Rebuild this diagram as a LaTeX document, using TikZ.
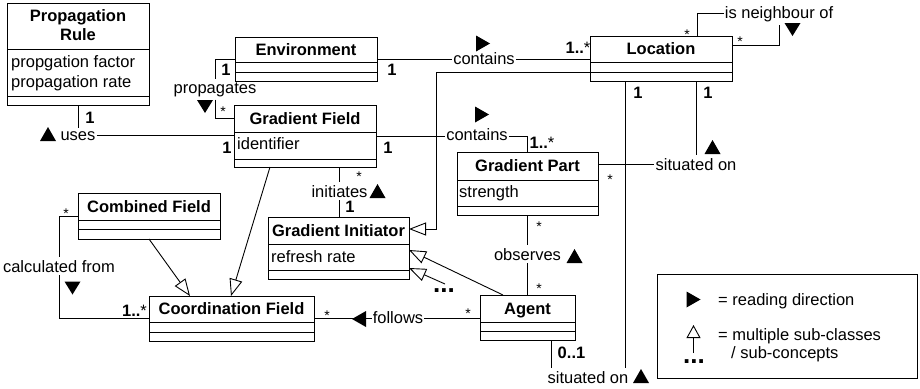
\documentclass[tikz,border=0pt]{standalone}
\usepackage{fontspec}
\setmainfont{Liberation Sans}
\usetikzlibrary{arrows.meta,calc}

\tikzset{
  classbox/.style={draw, line width=1pt, inner sep=0pt, outer sep=0pt, anchor=north west},
  clstitle/.style={font=\fontsize{16.5}{19}\selectfont\bfseries, inner sep=0pt, text height=11.6pt, text depth=0pt, anchor=center},
  clstitleb/.style={font=\fontsize{16.5}{19}\selectfont\bfseries, inner sep=0pt, anchor=base},
  attr/.style={font=\fontsize{16.5}{20}\selectfont, inner sep=0pt, anchor=base west},
  lab/.style={font=\fontsize{16.5}{20}\selectfont, inner xsep=1pt, inner ysep=3pt, anchor=base},
  mult/.style={font=\fontsize{16.5}{19}\selectfont\bfseries, inner sep=0pt, anchor=base},
  starmark/.style={font=\fontsize{14}{16}\selectfont, inner sep=0pt, anchor=base},
  dotsmark/.style={font=\fontsize{26}{26}\selectfont\bfseries, inner sep=0pt, anchor=center},
  conn/.style={line width=0.9pt},
  genarrow/.style={conn, -{Triangle[open, length=17pt, width=13pt, line width=0.9pt]}},
}

% class box: name, x1, y1, x2, y2, header bottom, attributes bottom
\newcommand\umlclass[7]{%
  \node[classbox, minimum width={#4-#2}, minimum height={#5-#3}] (#1) at (#2,#3) {};
  \draw[line width=1pt] (#2,#6) -- (#4,#6) (#2,#7) -- (#4,#7);
}
% reading-direction triangles
\newcommand\rdUp[2]{\fill (#1-8,#2+7) -- (#1+8,#2+7) -- (#1,#2-7) -- cycle;}
\newcommand\rdDown[2]{\fill (#1-8,#2-6) -- (#1+8,#2-6) -- (#1,#2+7) -- cycle;}
\newcommand\rdRight[2]{\fill (#1-7,#2-8) -- (#1-7,#2+8) -- (#1+7,#2) -- cycle;}
\newcommand\rdLeft[2]{\fill (#1+7,#2-8) -- (#1+7,#2+8) -- (#1-7,#2) -- cycle;}

\begin{document}
\begin{tikzpicture}[x=1pt,y=-1pt]
\useasboundingbox (0,0) rectangle (920,388);

% ---------- classes ----------
\umlclass{prop}{7}{3}{149}{105}{49}{96}
\node[clstitleb] (tProp1) at (78,21) {Propagation};
\node[clstitleb] (tProp2) at (78,40) {Rule};
\node[attr] (aProp1) at (11,67) {propgation factor};
\node[attr] (aProp2) at (11,87) {propagation rate};

\umlclass{env}{235}{37}{377}{81}{62}{72}
\node[clstitle] (tEnv) at (306,49.5) {Environment};

\umlclass{gf}{234}{105}{376}{167}{132}{159}
\node[clstitle] (tGf) at (305,118.5) {Gradient Field};
\node[attr] (aGf) at (237,149) {identifier};

\umlclass{loc}{590}{36}{732}{81}{62}{72}
\node[clstitle] (tLoc) at (661,49) {Location};

\umlclass{gp}{457}{152}{598}{215}{180}{206}
\node[clstitle] (tGp) at (527.5,166) {Gradient Part};
\node[attr] (aGp) at (459,197) {strength};

\umlclass{gi}{268}{217}{409}{279}{244}{270}
\node[clstitle] (tGi) at (338.5,230.5) {Gradient Initiator};
\node[attr] (aGi) at (271,262) {refresh rate};

\umlclass{comb}{78}{193}{220}{239}{220}{229}
\node[clstitle] (tComb) at (149,206.5) {Combined Field};

\umlclass{cf}{149}{296}{314}{341}{322}{332}
\node[clstitle] (tCf) at (231.5,309) {Coordination Field};

\umlclass{agent}{480}{295}{575}{340}{322}{331}
\node[clstitle] (tAgent) at (527.5,308.5) {Agent};

% ---------- connector labels ----------
\node[lab] (lUses) at (78,140) {uses};
\node[lab] (lProp) at (215,93) {propagates};
\node[lab] (lCont1) at (484,64) {contains};
\node[lab] (lCont2) at (477,140) {contains};
\node[lab] (lInit) at (339.5,197) {initiates};
\node[lab] (lObs) at (527.5,260) {observes};
\node[lab] (lSit1) at (696,170) {situated on};
\node[lab] (lSit2) at (588,383) {situated on};
\node[lab] (lCalc) at (59,272) {calculated from};
\node[lab] (lFol) at (398,323) {follows};
\node[lab] (lNeigh) at (779,18) {is neighbour of};
\node[dotsmark] (lDots) at (444,291) {...};

% ---------- connectors ----------
% uses
\draw[conn] (prop.south) -- (lUses.north);
\draw[conn] (lUses.east) -- (lUses.east -| gf.west);
% propagates
\draw[conn] (env.west) -| (lProp.north);
\coordinate (gfPin) at ($(gf.north west)+(0,13)$);
\draw[conn] (lProp.south) |- (gfPin);
% contains (environment - location)
\draw[conn] (env.east) -- (env.east -| lCont1.west);
\draw[conn] (lCont1.east |- env.east) -- (env.east -| loc.west);
% location is a gradient initiator
\coordinate (locL) at ($(loc.south west)+(0,-9)$);
\coordinate (bendLG) at (436,229);
\draw[genarrow] (locL) -| (bendLG) -- (bendLG -| gi.east);
% contains (gradient field - gradient part)
\draw[conn] (gf.east) -- (gf.east -| lCont2.west);
\draw[conn] (lCont2.east |- gf.east) -| (gp.north);
% initiates
\draw[conn] (lInit.north) -- (lInit.north |- gf.south);
\draw[conn] (lInit.south) -- (lInit.south |- gi.north);
% generalisations to coordination field
\draw[genarrow] ($(gf.south west)+(36,0)$) -- ($(cf.north west)+(82,0)$);
\draw[genarrow] (comb.south) -- ($(cf.north west)+(41,0)$);
% calculated from
\draw[conn] ($(comb.north west)+(0,23)$) -| (lCalc.north);
\draw[conn] (lCalc.south) |- (cf.west);
% follows
\draw[conn] (cf.east) -- (cf.east -| lFol.west);
\draw[conn] (lFol.east |- cf.east) -- (cf.east -| agent.west);
% agent is a gradient initiator
\draw[genarrow] ($(agent.north west)+(23,0)$) -- ($(gi.north east)+(0,33)$);
\coordinate (dotsTop) at (445,284);
\draw[genarrow] (dotsTop) -- ($(gi.north east)+(0,51)$);
% observes
\draw[conn] (gp.south) -- (lObs.north);
\draw[conn] (lObs.south) -- (agent.north);
% situated on (gradient part - location)
\coordinate (gpR) at ($(gp.north east)+(0,12)$);
\draw[conn] (gpR) -- (gpR -| lSit1.west);
\draw[conn] (lSit1.north) -- (lSit1.north |- loc.south);
% situated on (agent - location)
\coordinate (locB) at ($(loc.south west)+(35.5,0)$);
\draw[conn] (locB) -- (locB |- lSit2.north);
\coordinate (agB) at ($(agent.south west)+(71,0)$);
\draw[conn] (agB) -- (agB |- lSit2.north);
% is neighbour of
\coordinate (locT) at ($(loc.north west)+(107,0)$);
\draw[conn] (locT) |- (lNeigh.west);
\coordinate (locR) at ($(loc.north east)+(0,9)$);
\draw[conn] (locR) -| (lNeigh.south);

% ---------- multiplicities ----------
\node[mult] (m1) at (90,123) {1};
\node[mult] (m2) at (227,153) {1};
\node[mult] (m3) at (226,75) {1};
\node[mult] (m4) at (392,75) {1};
\node[mult] (m5) at (388,153) {1};
\node[mult] (m6) at (578,53) {1..{\mdseries*}};
\node[mult] (m7) at (542,148) {1..{\mdseries*}};
\node[mult] (m8) at (134.5,316) {1..{\mdseries*}};
\node[mult] (m9) at (350,212) {1};
\node[mult] (m10) at (638,98) {1};
\node[mult] (m11) at (708,98) {1};
\node[mult] (m12) at (571.5,358) {0..1};
\node[starmark] (s1) at (223,116) {*};
\node[starmark] (s2) at (687,39) {*};
\node[starmark] (s3) at (740,46) {*};
\node[starmark] (s4) at (359,181) {*};
\node[starmark] (s5) at (610,184) {*};
\node[starmark] (s6) at (539,231) {*};
\node[starmark] (s7) at (539,293) {*};
\node[starmark] (s8) at (468,318) {*};
\node[starmark] (s9) at (327,320) {*};
\node[starmark] (s10) at (66,218) {*};

% ---------- reading directions ----------
\rdUp{48}{134}
\rdDown{205}{106}
\rdRight{483}{43.5}
\rdRight{482}{114.5}
\rdUp{377.5}{191}
\rdUp{574.5}{256}
\rdUp{712.5}{147}
\rdUp{641}{376}
\rdDown{792.5}{29}
\rdDown{72.5}{287.5}
\rdLeft{359}{319}

% ---------- legend ----------
\node[classbox, minimum width=260, minimum height=104] (legend) at (657,274) {};
\rdRight{693.5}{299.5}
\node[attr] (lg1) at (718,305) {= reading direction};
\node[attr] (lg2) at (718,340) {= multiple sub-classes};
\node[attr] (lg3) at (731,358) {/ sub-concepts};
\node[dotsmark] (lgDots) at (694,362) {...};
\coordinate (lgBot) at (693.5,353);
\coordinate (lgTip) at (693.5,325);
\draw[conn, -{Triangle[open, length=13pt, width=14pt, line width=0.9pt]}] (lgBot) -- (lgTip);
\end{tikzpicture}
\end{document}
